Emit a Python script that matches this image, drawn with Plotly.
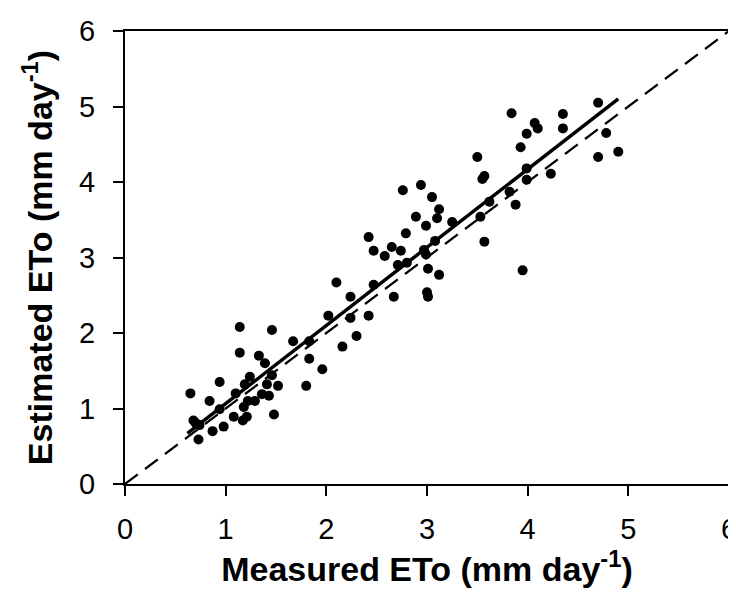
import plotly.graph_objects as go

# measured vs estimated ETo (mm/day)
measured = [
    0.65, 0.68, 0.70, 0.74, 0.73, 0.84, 0.87, 0.94, 0.94, 0.98,
    1.08, 1.10, 1.14, 1.14, 1.17, 1.18, 1.19, 1.21, 1.22, 1.24,
    1.29, 1.33, 1.36, 1.39, 1.41, 1.43, 1.46, 1.46, 1.48, 1.52,
    1.67, 1.80, 1.83, 1.83, 1.96,
    2.02, 2.10, 2.16, 2.24, 2.24, 2.30, 2.42, 2.42, 2.47, 2.47,
    2.58, 2.65, 2.67, 2.71, 2.74, 2.76, 2.79, 2.80, 2.89, 2.94,
    2.97, 2.99, 2.99, 3.00, 3.01, 3.01, 3.05, 3.08, 3.10, 3.12,
    3.12, 3.25,
    3.50, 3.53, 3.55, 3.57, 3.57, 3.62, 3.82, 3.84, 3.88, 3.93,
    3.95, 3.99, 3.99, 3.99, 4.07, 4.10, 4.23, 4.35, 4.35, 4.70,
    4.70, 4.78, 4.90,
]
estimated = [
    1.20, 0.84, 0.81, 0.78, 0.59, 1.10, 0.70, 1.35, 0.99, 0.76,
    0.89, 1.20, 2.08, 1.74, 0.84, 1.02, 1.32, 0.89, 1.10, 1.42,
    1.10, 1.70, 1.19, 1.60, 1.32, 1.17, 2.04, 1.44, 0.92, 1.30,
    1.89, 1.30, 1.89, 1.66, 1.52,
    2.23, 2.67, 1.82, 2.48, 2.20, 1.96, 3.27, 2.23, 2.64, 3.09,
    3.02, 3.14, 2.48, 2.90, 3.09, 3.89, 3.32, 2.93, 3.54, 3.96,
    3.10, 3.42, 3.04, 2.54, 2.48, 2.85, 3.80, 3.22, 3.52, 3.64,
    2.77, 3.47,
    4.33, 3.54, 4.04, 4.08, 3.21, 3.74, 3.87, 4.91, 3.70, 4.46,
    2.83, 4.64, 4.03, 4.18, 4.78, 4.71, 4.11, 4.90, 4.71, 5.05,
    4.33, 4.65, 4.40,
]

# fitted regression line and 1:1 line
fit_slope = 1.035
fit_intercept = 0.03
fit_x = [0.62, 4.90]
fit_y = [fit_slope * v + fit_intercept for v in fit_x]
one_to_one = [0, 6]

tick_vals = [0, 1, 2, 3, 4, 5, 6]

fig = go.Figure()

fig.add_trace(go.Scatter(
    x=one_to_one, y=one_to_one, mode="lines",
    line=dict(color="black", width=2.2, dash="16px,9px"),
    showlegend=False, hoverinfo="skip",
))

fig.add_trace(go.Scatter(
    x=measured, y=estimated, mode="markers",
    marker=dict(color="black", size=10),
    showlegend=False,
))

fig.add_trace(go.Scatter(
    x=fit_x, y=fit_y, mode="lines",
    line=dict(color="black", width=3.5),
    showlegend=False, hoverinfo="skip",
))

axis_common = dict(
    range=[0, 6],
    tickvals=tick_vals,
    showgrid=False,
    zeroline=False,
    showline=True,
    linecolor="black",
    linewidth=2,
    mirror=True,
    ticks="outside",
    ticklen=10,
    tickwidth=2,
    tickcolor="black",
    tickfont=dict(family="Liberation Sans, Arial", size=29, color="black"),
)

fig.update_xaxes(
    **axis_common,
    ticklabelstandoff=8,
    title=dict(
        text="<b>Measured ETo (mm day<sup>-1</sup>)</b>",
        font=dict(family="Liberation Sans, Arial", size=34, color="black"),
        standoff=6,
    ),
)
fig.update_yaxes(
    **axis_common,
    ticklabelstandoff=12,
    title=dict(
        text="<b>Estimated ETo (mm day<sup>-1</sup>)</b>",
        font=dict(family="Liberation Sans, Arial", size=34, color="black"),
        standoff=16,
    ),
)

fig.update_layout(
    width=736,
    height=597,
    margin=dict(l=117, r=7, t=18, b=121),
    paper_bgcolor="white",
    plot_bgcolor="white",
    font=dict(family="Liberation Sans, Arial", color="black"),
)

fig.write_html("out.html")
